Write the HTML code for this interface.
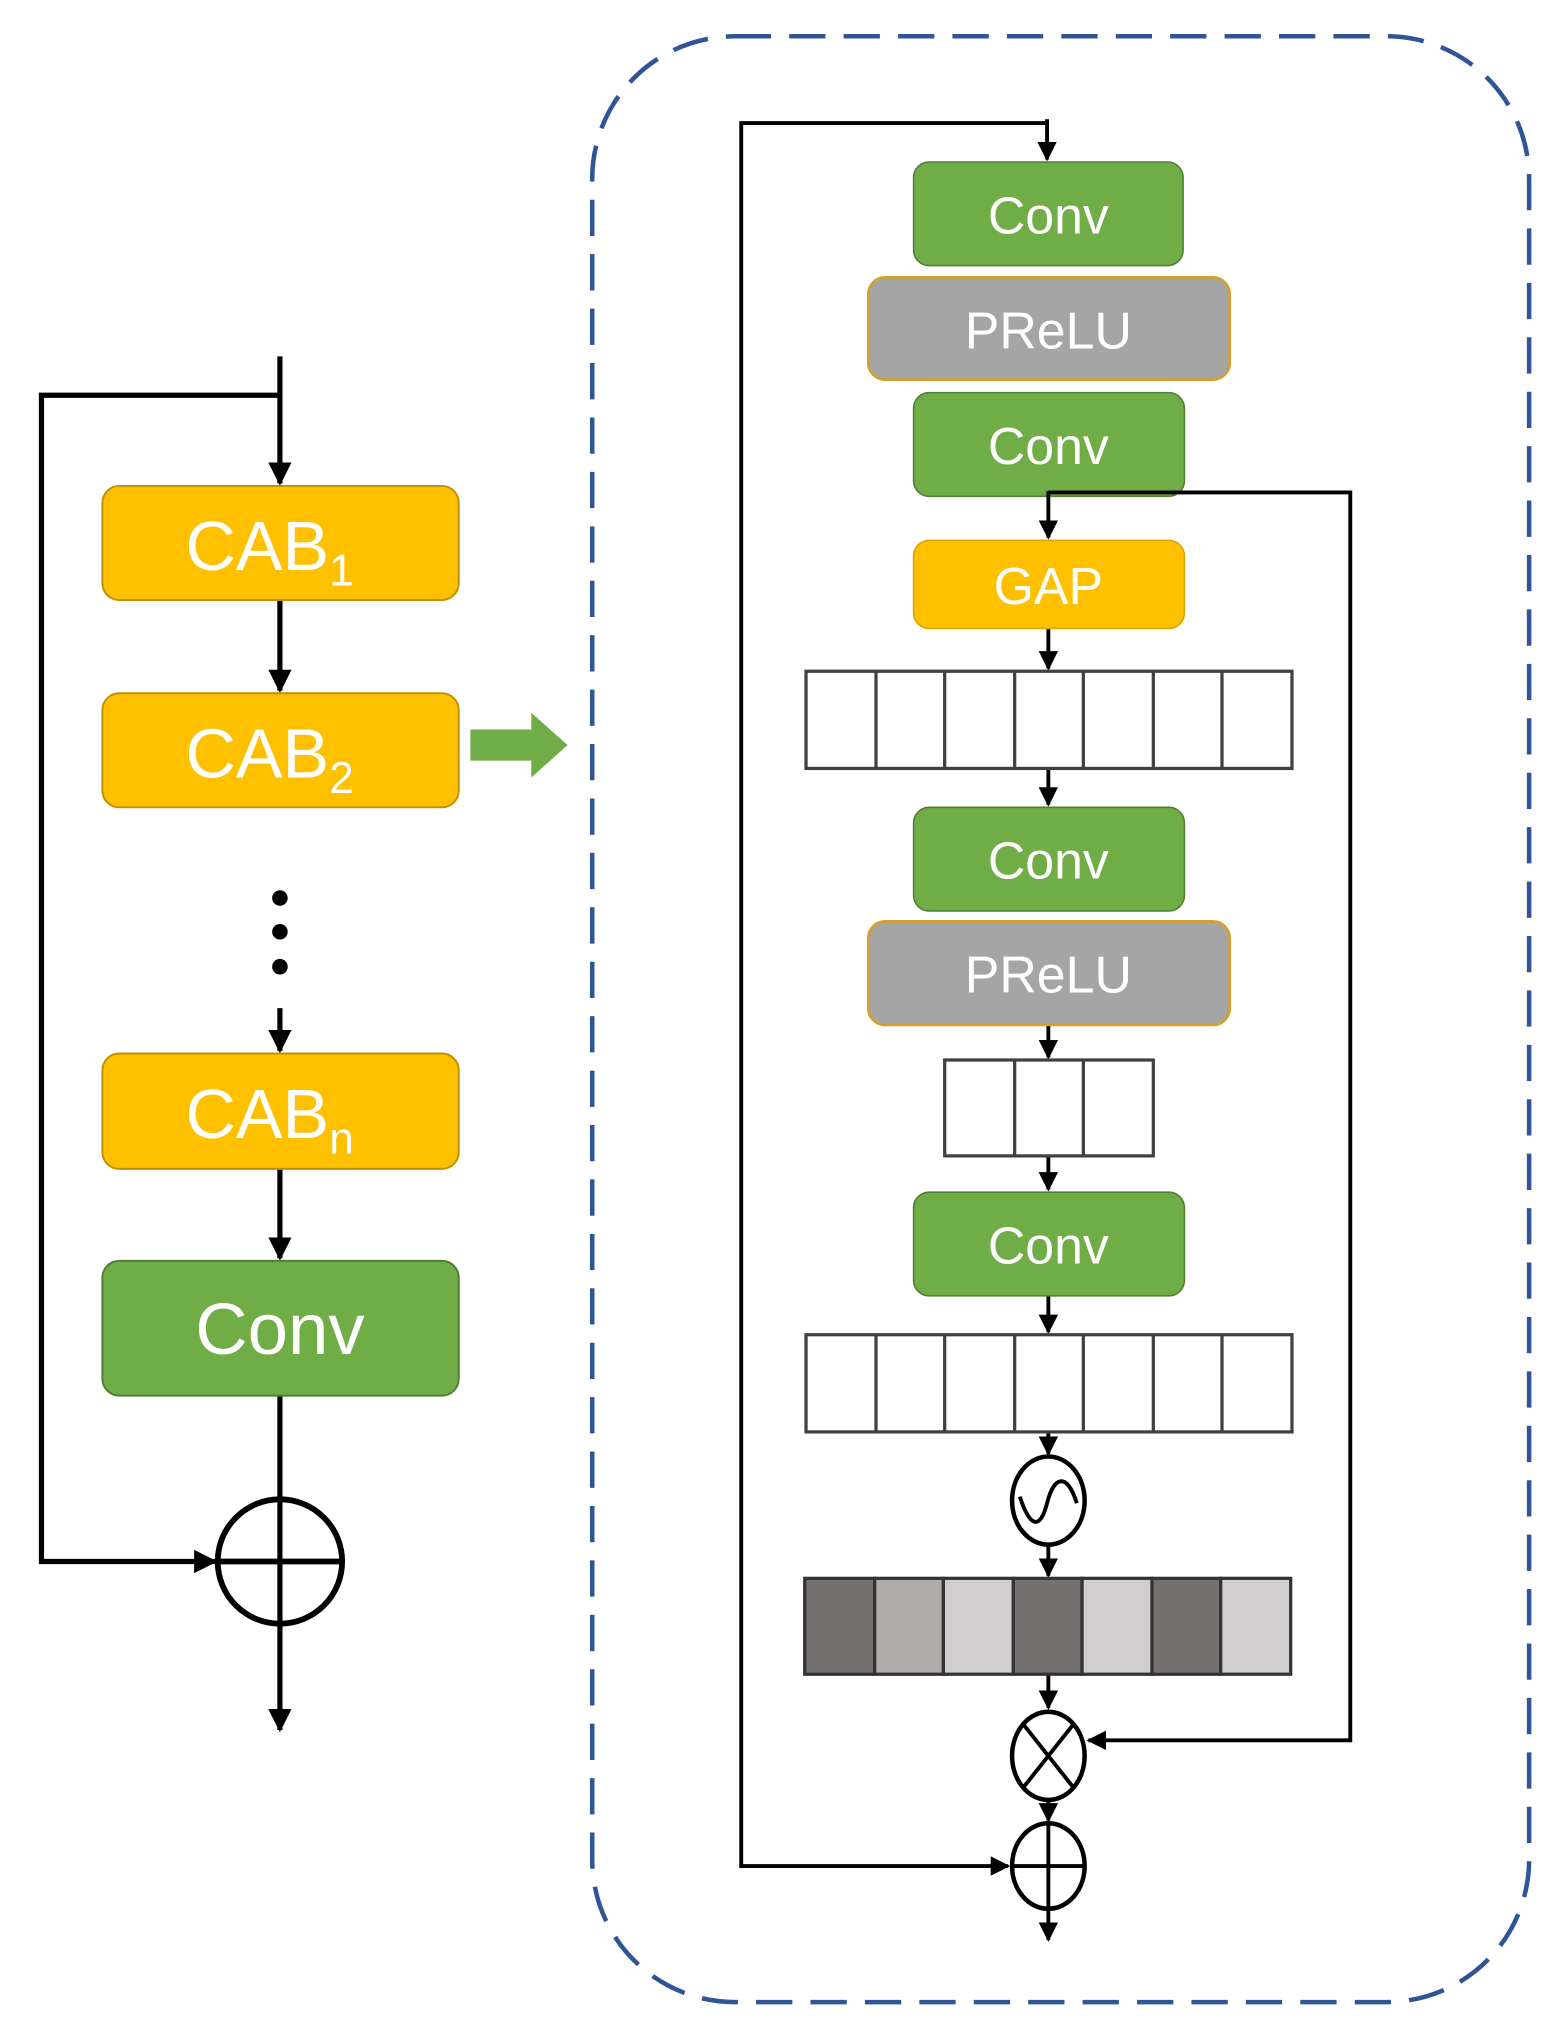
<!DOCTYPE html>
<html><head><meta charset="utf-8"><style>
html,body{margin:0;padding:0;background:#fff;}
svg{display:block;}
text{font-family:"Liberation Sans",sans-serif;fill:#fff;text-anchor:middle;}
</style></head><body>
<svg width="1568" height="2028" viewBox="0 0 1210 1565" xmlns="http://www.w3.org/2000/svg">
<defs>
<marker id="a" viewBox="0 0 10 10" refX="9" refY="5" markerWidth="4.5" markerHeight="4.5" orient="auto" markerUnits="strokeWidth"><path d="M0,0 L10,5 L0,10 z" fill="#000"/></marker>
<marker id="b" viewBox="0 0 10 10" refX="9" refY="5" markerWidth="5" markerHeight="5" orient="auto" markerUnits="strokeWidth"><path d="M0,0 L10,5 L0,10 z" fill="#000"/></marker>
</defs>
<rect x="457" y="28" width="723" height="1517" rx="110" fill="none" stroke="#2F5597" stroke-width="3.5" stroke-dasharray="28,14"/>

<g stroke="#000" stroke-width="4" fill="none">
<line x1="216" y1="275" x2="216" y2="373" marker-end="url(#a)"/>
<polyline points="216,305 32,305 32,1205 166,1205" marker-end="url(#a)"/>
<line x1="216" y1="463" x2="216" y2="533" marker-end="url(#a)"/>
<line x1="216" y1="778" x2="216" y2="811" marker-end="url(#a)"/>
<line x1="216" y1="902" x2="216" y2="971" marker-end="url(#a)"/>
<line x1="216" y1="1077" x2="216" y2="1335" marker-end="url(#a)"/>
<ellipse cx="216" cy="1205" rx="48" ry="48" stroke-width="4.5"/>
<line x1="168" y1="1205" x2="264" y2="1205" stroke-width="4.5"/>
</g>
<circle cx="216" cy="693" r="6"/><circle cx="216" cy="719" r="6"/><circle cx="216" cy="746" r="6"/>
<g stroke="#BF9000" stroke-width="1.5" fill="#FFC000">
<rect x="79" y="375" width="275" height="88" rx="13"/>
<rect x="79" y="535" width="275" height="88" rx="13"/>
<rect x="79" y="813" width="275" height="89" rx="13"/>
</g>
<rect x="79" y="973" width="275" height="104" rx="13" fill="#70AD47" stroke="#507E32" stroke-width="1.5"/>
<text x="208" y="440" font-size="54">CAB<tspan font-size="34" dy="12">1</tspan></text>
<text x="208" y="600" font-size="54">CAB<tspan font-size="34" dy="12">2</tspan></text>
<text x="208" y="878" font-size="54">CAB<tspan font-size="34" dy="12">n</tspan></text>
<text x="216" y="1045" font-size="56">Conv</text>
<path d="M363,563 L410,563 L410,550 L438,575 L410,600 L410,587 L363,587 z" fill="#70AD47"/>

<g stroke="#000" stroke-width="3" fill="none">
<polyline points="808,95 572,95 572,1440 778,1440" marker-end="url(#b)"/>
<line x1="808" y1="92" x2="808" y2="123" marker-end="url(#b)"/>
<line x1="809" y1="485" x2="809" y2="516" marker-end="url(#b)"/>
<line x1="809" y1="593" x2="809" y2="621" marker-end="url(#b)"/>
<line x1="809" y1="791" x2="809" y2="816" marker-end="url(#b)"/>
<line x1="809" y1="892" x2="809" y2="918" marker-end="url(#b)"/>
<line x1="809" y1="1000" x2="809" y2="1028" marker-end="url(#b)"/>
<line x1="809" y1="1105" x2="809" y2="1122" marker-end="url(#b)"/>
<line x1="809" y1="1193" x2="809" y2="1216" marker-end="url(#b)"/>
<line x1="809" y1="1292" x2="809" y2="1318" marker-end="url(#b)"/>
<line x1="809" y1="1390" x2="809" y2="1405" marker-end="url(#b)"/>
<line x1="809" y1="1474" x2="809" y2="1497" marker-end="url(#b)"/>
</g>
<g fill="#70AD47" stroke="#507E32" stroke-width="1.2">
<rect x="705" y="125" width="208" height="80" rx="12"/>
<rect x="705" y="303" width="209" height="80" rx="12"/>
<rect x="705" y="623" width="209" height="80" rx="12"/>
<rect x="705" y="920" width="209" height="80" rx="12"/>
</g>
<g fill="#A5A5A5" stroke="#D4A029" stroke-width="2">
<rect x="670" y="214" width="279" height="79" rx="13"/>
<rect x="670" y="711" width="279" height="80" rx="13"/>
</g>
<rect x="705" y="417" width="209" height="68" rx="12" fill="#FFC000" stroke="#D9A400" stroke-width="1.2"/>
<g stroke="#000" stroke-width="3" fill="none">
<polyline points="809,380 1042,380 1042,1343 840,1343" marker-end="url(#b)"/>
<line x1="809" y1="379" x2="809" y2="415" marker-end="url(#b)"/>
</g>
<text x="809" y="180" font-size="40">Conv</text>
<text x="809" y="269" font-size="40">PReLU</text>
<text x="809" y="358" font-size="40">Conv</text>
<text x="809" y="466" font-size="40">GAP</text>
<text x="809" y="678" font-size="40">Conv</text>
<text x="809" y="766" font-size="40">PReLU</text>
<text x="809" y="975" font-size="40">Conv</text>
<g fill="#fff" stroke="#404040" stroke-width="2.5">
<rect x="622" y="518" width="375" height="75"/>
<line x1="676" y1="518" x2="676" y2="593"/><line x1="729" y1="518" x2="729" y2="593"/><line x1="783" y1="518" x2="783" y2="593"/><line x1="836" y1="518" x2="836" y2="593"/><line x1="890" y1="518" x2="890" y2="593"/><line x1="943" y1="518" x2="943" y2="593"/>
<rect x="729" y="818" width="161" height="74"/>
<line x1="783" y1="818" x2="783" y2="892"/><line x1="836" y1="818" x2="836" y2="892"/>
<rect x="622" y="1030" width="375" height="75"/>
<line x1="676" y1="1030" x2="676" y2="1105"/><line x1="729" y1="1030" x2="729" y2="1105"/><line x1="783" y1="1030" x2="783" y2="1105"/><line x1="836" y1="1030" x2="836" y2="1105"/><line x1="890" y1="1030" x2="890" y2="1105"/><line x1="943" y1="1030" x2="943" y2="1105"/>
</g>
<g stroke="#333" stroke-width="2.5">
<rect x="621" y="1218" width="54" height="74" fill="#757171"/>
<rect x="675" y="1218" width="53" height="74" fill="#AFABAB"/>
<rect x="728" y="1218" width="54" height="74" fill="#D0CECE"/>
<rect x="782" y="1218" width="53" height="74" fill="#757171"/>
<rect x="835" y="1218" width="54" height="74" fill="#D0CECE"/>
<rect x="889" y="1218" width="53" height="74" fill="#757171"/>
<rect x="942" y="1218" width="54" height="74" fill="#D0CECE"/>
</g>
<g stroke="#000" stroke-width="3.5" fill="#fff">
<ellipse cx="809" cy="1158" rx="28" ry="34"/>
<ellipse cx="809" cy="1355" rx="28" ry="34"/>
<ellipse cx="809" cy="1440" rx="28" ry="33"/>
</g>
<g stroke="#000" stroke-width="3" fill="none">
<path d="M787,1155 C795,1180 803,1180 808,1160 C813,1140 823,1135 831,1160"/>
<line x1="790" y1="1331" x2="828" y2="1379"/><line x1="828" y1="1331" x2="790" y2="1379"/>
<line x1="781" y1="1440" x2="837" y2="1440"/><line x1="809" y1="1407" x2="809" y2="1473"/>
</g>
</svg>
</body></html>
